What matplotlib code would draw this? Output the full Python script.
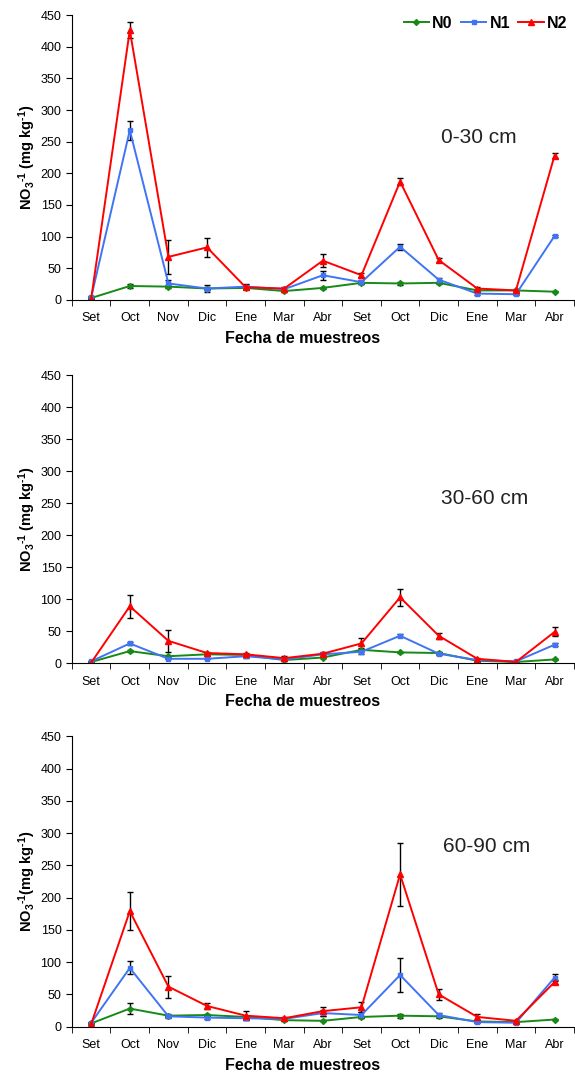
import numpy as np
import matplotlib
matplotlib.use("Agg")
import matplotlib.pyplot as plt
from matplotlib.lines import Line2D

months = ["Set", "Oct", "Nov", "Dic", "Ene", "Mar", "Abr",
          "Set", "Oct", "Dic", "Ene", "Mar", "Abr"]

# 0-30 cm
n0_a = [3, 22, 21, 18, 19, 14, 19, 27, 26, 27, 15, 15, 13]
n1_a = [4, 268, 26, 18, 21, 17, 39, 28, 84, 32, 10, 9, 101]
n2_a = [2, 426, 68, 83, 20, 18, 62, 39, 187, 63, 18, 15, 228]
e0_a = [1, 3, 2, 2, 2, 1, 2, 2, 2, 2, 2, 1, 1]
e1_a = [2, 15, 6, 5, 4, 2, 7, 3, 5, 3, 2, 1, 2]
e2_a = [1, 13, 27, 15, 3, 2, 10, 3, 5, 3, 3, 2, 4]

# 30-60 cm
n0_b = [2, 19, 11, 14, 13, 5, 9, 21, 17, 16, 4, 2, 6]
n1_b = [3, 31, 7, 7, 11, 6, 14, 18, 43, 15, 5, 3, 29]
n2_b = [1, 89, 35, 16, 14, 8, 15, 31, 103, 43, 7, 2, 49]
e0_b = [1, 2, 1, 2, 1, 1, 1, 3, 1, 1, 1, 1, 1]
e1_b = [1, 3, 1, 1, 2, 1, 2, 3, 2, 2, 1, 1, 2]
e2_b = [1, 18, 17, 2, 2, 3, 2, 8, 13, 5, 1, 1, 7]

# 60-90 cm
n0_c = [5, 28, 17, 18, 15, 10, 9, 15, 17, 16, 8, 7, 11]
n1_c = [6, 91, 16, 14, 13, 12, 21, 18, 80, 18, 7, 6, 76]
n2_c = [4, 179, 62, 32, 17, 13, 24, 30, 236, 50, 15, 9, 69]
e0_c = [1, 9, 2, 2, 2, 1, 1, 2, 3, 2, 1, 1, 1]
e1_c = [1, 10, 2, 2, 2, 1, 5, 5, 27, 3, 1, 1, 6]
e2_c = [1, 29, 17, 4, 7, 2, 7, 8, 49, 8, 4, 2, 3]

depths = ["0-30 cm", "30-60 cm", "60-90 cm"]
depth_x = [10.05, 10.2, 10.25]
depth_y = [257, 258, 280]
ylabels = [r"NO$_3$$^{\text{-1}}$ (mg kg$^{\text{-1}}$)",
           r"NO$_3$$^{\text{-1}}$ (mg kg$^{\text{-1}}$)",
           r"NO$_3$$^{\text{-1}}$(mg kg$^{\text{-1}}$)"]
panels = [(n0_a, n1_a, n2_a, e0_a, e1_a, e2_a),
          (n0_b, n1_b, n2_b, e0_b, e1_b, e2_b),
          (n0_c, n1_c, n2_c, e0_c, e1_c, e2_c)]

plt.rcParams['font.family'] = ['Liberation Sans', 'DejaVu Sans']
plt.rcParams['mathtext.fontset'] = 'custom'
plt.rcParams['mathtext.rm'] = 'Liberation Sans:bold'
plt.rcParams['mathtext.bf'] = 'Liberation Sans:bold'
plt.rcParams['mathtext.it'] = 'Liberation Sans:bold'

fig = plt.figure(figsize=(5.75, 10.75), dpi=100)
boxes = [(0.125, 0.721, 0.873, 0.265),
         (0.125, 0.383, 0.873, 0.268),
         (0.125, 0.045, 0.873, 0.270)]

colors = ["#168a16", "#3f74f5", "#ff0000"]
markers = ["D", "s", "^"]
msizes = [3, 3.5, 4]
names = ["N0", "N1", "N2"]

x = np.arange(len(months))
for k, box in enumerate(boxes):
    ax = fig.add_axes(box)
    vals = panels[k]
    for j in range(3):
        ax.errorbar(x, vals[j], yerr=vals[j + 3], color=colors[j],
                    marker=markers[j], markersize=msizes[j], linewidth=1.4,
                    ecolor="black", elinewidth=1, capsize=2, capthick=1)
    ax.set_xlim(-0.5, len(months) - 0.5)
    ax.set_ylim(0, 450)
    ax.set_yticks(range(0, 451, 50))
    ax.set_xticks(x)
    ax.set_xticklabels(months, fontsize=9)
    ax.set_xticks(np.arange(-0.5, len(months), 1), minor=True)
    ax.tick_params(axis="x", which="major", length=0, pad=9)
    ax.tick_params(axis="x", which="minor", length=4, direction="out")
    ax.tick_params(axis="y", labelsize=9, length=4, direction="out")
    for s in ["top", "right"]:
        ax.spines[s].set_visible(False)
    ax.set_ylabel(ylabels[k], fontsize=10.5, fontweight="bold", labelpad=2)
    ax.set_xlabel("Fecha de muestreos", fontsize=11.5, fontweight="bold")
    ax.xaxis.set_label_coords(0.46, -31.0 / (box[3] * 1075))
    ax.text(depth_x[k], depth_y[k], depths[k], fontsize=15,
            ha="center", va="center", color="#222222")
    if k == 0:
        handles = [Line2D([], [], color=colors[j], marker=markers[j],
                          markersize=msizes[j], linewidth=1.4)
                   for j in range(3)]
        ax.legend(handles, names, loc="upper right", ncol=3, frameon=False,
                  handlelength=1.6, handletextpad=0.2,
                  columnspacing=0.5, borderaxespad=0.0,
                  prop={"weight": "bold", "size": 11.5},
                  bbox_to_anchor=(1.0, 1.02))

fig.savefig("out.png", dpi=100)
